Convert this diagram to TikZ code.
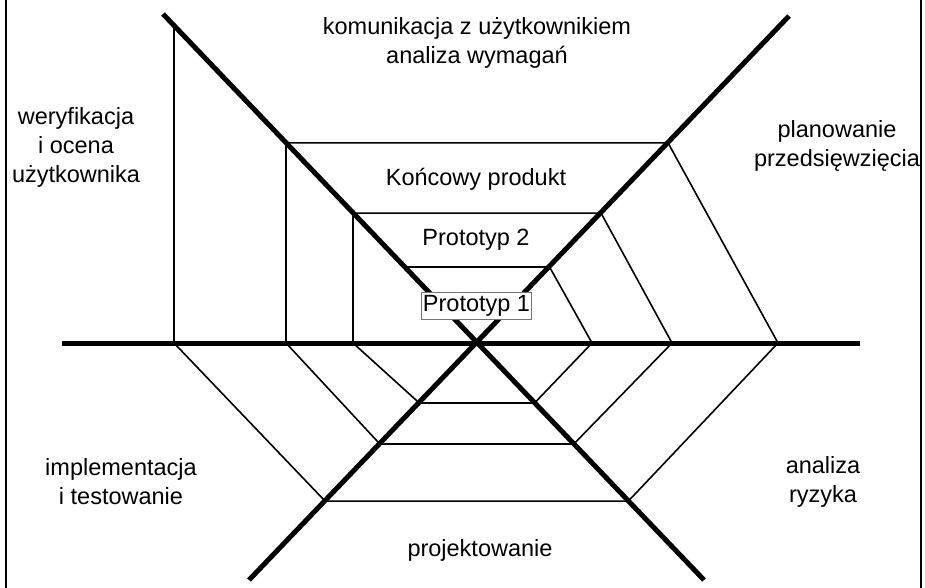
\documentclass[tikz,border=0pt]{standalone}
\usepackage{fontspec}
\setmainfont{Liberation Sans}
\begin{document}
\begin{tikzpicture}[x=1pt,y=-1pt,
  axisline/.style={line width=5pt},
  spiral/.style={line width=1.6pt, line join=miter},
  frameline/.style={line width=2pt},
  lbl/.style={font=\fontsize{23.5}{29}\selectfont, align=center, inner sep=0pt},
  protobox/.style={font=\fontsize{23.5}{29}\selectfont, draw=black!55, line width=0.9pt, fill=white, inner xsep=1pt, inner ysep=3pt}]
\useasboundingbox (0,0) rectangle (925,588);
% frame
\draw[frameline] (6,0) -- (6,588);
\draw[frameline] (921,0) -- (921,588);
% axes end points
\coordinate (C) at (477,343);
\coordinate (UL) at (163,14);
\coordinate (LR) at (704,580);
\coordinate (UR) at (789,16);
\coordinate (LL) at (249,580);
\coordinate (HL) at (62,343);
\coordinate (HR) at (860,343);
% guides
\coordinate (a267) at (0,267); \coordinate (b267) at (925,267);
\coordinate (a403) at (0,403); \coordinate (b403) at (925,403);
\coordinate (a444) at (0,444); \coordinate (b444) at (925,444);
\coordinate (a501) at (0,501); \coordinate (b501) at (925,501);
\coordinate (v353a) at (353,0); \coordinate (v353b) at (353,588);
\coordinate (v286a) at (286,0); \coordinate (v286b) at (286,588);
\coordinate (v174a) at (174,0); \coordinate (v174b) at (174,588);
% spiral vertices
\coordinate (s0) at (intersection of UL--C and a267--b267);
\coordinate (s1) at (intersection of UR--C and a267--b267);
\coordinate (s2) at (592,343);
\coordinate (s3) at (intersection of LR--C and a403--b403);
\coordinate (s4) at (intersection of LL--C and a403--b403);
\coordinate (s5) at (353,343);
\coordinate (s6) at (intersection of UL--C and v353a--v353b);
\coordinate (s6r) at (s6 -| HR);
\coordinate (s7) at (intersection of UR--C and s6--s6r);
\coordinate (s8) at (672,343);
\coordinate (s9) at (intersection of LR--C and a444--b444);
\coordinate (s10) at (intersection of LL--C and a444--b444);
\coordinate (s11) at (286,343);
\coordinate (s12) at (intersection of UL--C and v286a--v286b);
\coordinate (s12r) at (s12 -| HR);
\coordinate (s13) at (intersection of UR--C and s12--s12r);
\coordinate (s14) at (778,343);
\coordinate (s15) at (intersection of LR--C and a501--b501);
\coordinate (s16) at (intersection of LL--C and a501--b501);
\coordinate (s17) at (174,343);
\coordinate (s18) at (intersection of UL--C and v174a--v174b);
\draw[spiral] (s0) -- (s1) -- (s2) -- (s3) -- (s4) -- (s5) -- (s6) -- (s7) -- (s8) -- (s9) -- (s10) -- (s11) -- (s12) -- (s13) -- (s14) -- (s15) -- (s16) -- (s17) -- (s18);
% thick axes
\draw[axisline] (UL) -- (LR);
\draw[axisline] (UR) -- (LL);
\draw[axisline] (HL) -- (HR);
% labels
\node[protobox] (p1) at (476.5,305.5) {Prototyp 1};
\node[lbl] (p2) at (476,240) {Prototyp 2};
\node[lbl] (kp) at (476,179) {Końcowy produkt};
\node[lbl] (kom) at (477,43) {komunikacja z użytkownikiem\\analiza wymagań};
\node[lbl] (wer) at (76,147) {weryfikacja\\i ocena\\użytkownika};
\node[lbl] (plan) at (837,146) {planowanie\\przedsięwzięcia};
\node[lbl] (impl) at (121,482) {implementacja\\i testowanie};
\node[lbl] (ryz) at (823,482) {analiza\\ryzyka};
\node[lbl] (proj) at (480,550) {projektowanie};
\end{tikzpicture}
\end{document}
